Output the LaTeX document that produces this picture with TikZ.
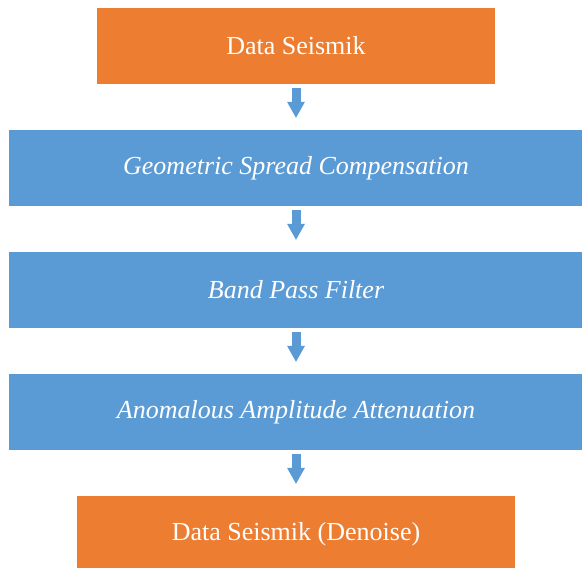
\documentclass[tikz,border=0pt]{standalone}
\usepackage{fontspec}
\setmainfont{Liberation Serif}
\usepackage{tikz}
\usetikzlibrary{positioning,arrows.meta}
\definecolor{seisorange}{HTML}{ED7D31}
\definecolor{seisblue}{HTML}{5B9BD5}
\tikzstyle{databox} = [rectangle, minimum height=76pt, inner sep=0pt, text centered, fill=seisorange, text=white, font=\fontsize{26}{30}\selectfont]
\tikzstyle{procbox} = [rectangle, minimum width=575pt, minimum height=76pt, inner sep=0pt, text centered, fill=seisblue, text=white, font=\fontsize{26}{30}\selectfont\itshape]
\tikzstyle{connect} = [line width=9pt, draw=seisblue, -{Triangle[width=18pt,length=16pt,line width=0pt]}, shorten <=4pt, shorten >=12pt]

\begin{document}
\begin{tikzpicture}[node distance=122pt]
			\useasboundingbox (0,0) rectangle (582pt,-568pt);
			\node (raw) [databox, minimum width=398pt] at (296pt,-46pt) {Data Seismik};
			\node (gsc) [procbox, below of=raw] {Geometric Spread Compensation};
			\node (bpf) [procbox, below of=gsc] {Band Pass Filter};
			\node (aaa) [procbox, below of=bpf] {Anomalous Amplitude Attenuation};
			\node (denoised) [databox, minimum width=438pt, below of=aaa] {Data Seismik (Denoise)};
			
			\draw [connect] (raw) -- (gsc);
			\draw [connect] (gsc) -- (bpf);
			\draw [connect] (bpf) -- (aaa);
			\draw [connect] (aaa) -- (denoised);
			\end{tikzpicture}
\end{document}
